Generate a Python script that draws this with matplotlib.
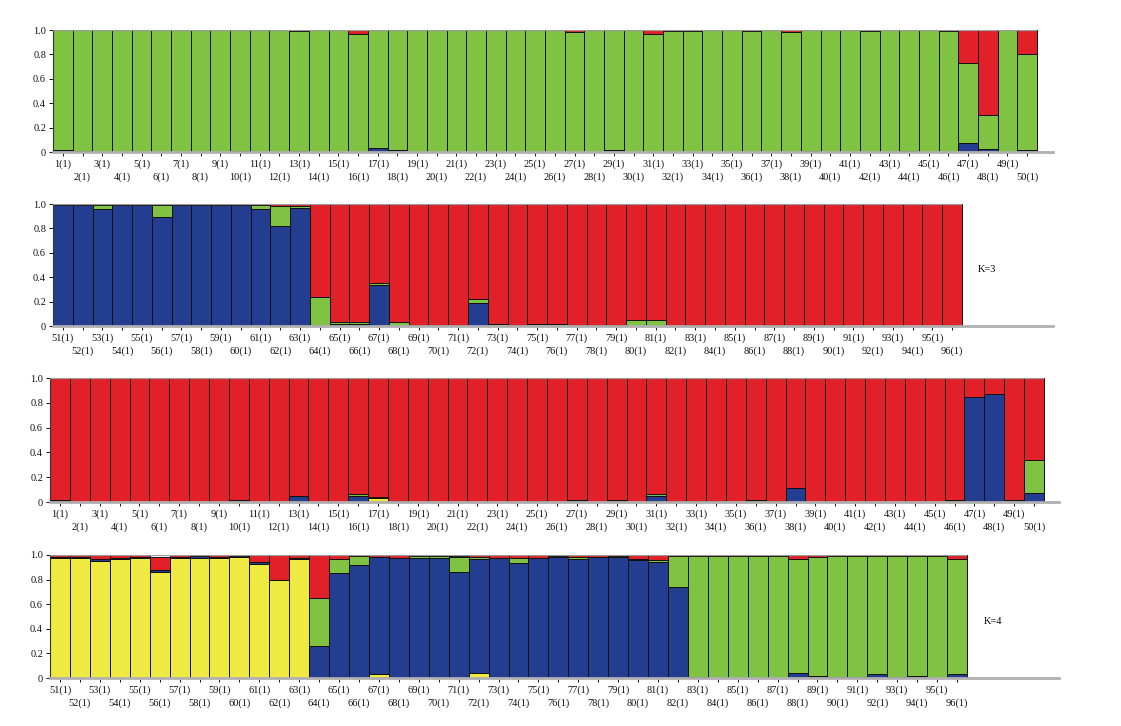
import matplotlib.pyplot as plt
import numpy as np

plt.rcParams['font.family'] = ['Liberation Serif', 'DejaVu Serif']

# colours of the clusters
GREEN = '#80C342'
RED = '#E12028'
BLUE = '#233E90'
YELLOW = '#EEEA42'

# ---- panel 1 : samples 1-50 (blue, green, red from bottom) ----
ids1 = list(range(1, 51))
blue1 = [0.015, 0.005, 0, 0, 0, 0, 0, 0, 0, 0.005,
         0, 0, 0.005, 0, 0, 0, 0.03, 0.015, 0, 0,
         0, 0, 0, 0, 0, 0, 0, 0, 0.02, 0,
         0, 0, 0, 0, 0, 0, 0, 0, 0.005, 0,
         0, 0, 0, 0.005, 0, 0, 0.075, 0.025, 0, 0.015]
green1 = [0.985, 0.995, 1, 1, 1, 1, 1, 1, 1, 0.995,
          1, 1, 0.985, 1, 1, 0.965, 0.97, 0.985, 1, 1,
          1, 1, 1, 1, 1, 1, 0.98, 1, 0.98, 1,
          0.97, 0.99, 0.99, 1, 1, 0.99, 1, 0.98, 0.995, 1,
          1, 0.99, 1, 0.995, 1, 0.99, 0.655, 0.275, 1, 0.785]
red1 = [0, 0, 0, 0, 0, 0, 0, 0, 0, 0,
        0, 0, 0.01, 0, 0, 0.035, 0, 0, 0, 0,
        0, 0, 0, 0, 0, 0, 0.02, 0, 0, 0,
        0.03, 0.01, 0.01, 0, 0, 0.01, 0, 0.02, 0, 0,
        0, 0.01, 0, 0, 0, 0.01, 0.27, 0.70, 0, 0.20]

# ---- panel 2 : samples 51-96, K=3 ----
ids2 = list(range(51, 97))
blue2 = [0.99, 0.99, 0.96, 0.99, 0.99, 0.89, 0.99, 0.99, 0.99, 0.99,
         0.955, 0.82, 0.97, 0, 0.02, 0.02, 0.34, 0, 0.005, 0,
         0, 0.19, 0, 0, 0, 0, 0, 0, 0, 0,
         0, 0, 0.005, 0, 0, 0, 0.005, 0, 0.005, 0.005,
         0, 0, 0, 0, 0, 0.005]
green2 = [0, 0, 0.03, 0, 0, 0.10, 0, 0, 0, 0,
          0.035, 0.165, 0.01, 0.24, 0.01, 0.01, 0.01, 0.03, 0.005, 0.01,
          0.01, 0.03, 0.02, 0.005, 0.02, 0.02, 0.01, 0.01, 0.01, 0.05,
          0.05, 0, 0, 0, 0, 0, 0, 0.01, 0, 0,
          0, 0, 0, 0, 0, 0]
red2 = [0.01, 0.01, 0.01, 0.01, 0.01, 0.01, 0.01, 0.01, 0.01, 0.01,
        0.01, 0.015, 0.02, 0.76, 0.97, 0.97, 0.65, 0.97, 0.99, 0.99,
        0.99, 0.78, 0.98, 0.995, 0.98, 0.98, 0.99, 0.99, 0.99, 0.95,
        0.95, 1, 0.995, 1, 1, 1, 0.995, 0.99, 0.995, 0.995,
        1, 1, 1, 1, 1, 0.995]

# ---- panel 3 : samples 1-50, K=4 (yellow, blue, green, red from bottom) ----
ids3 = list(range(1, 51))
yellow3 = [0.01, 0, 0, 0, 0, 0, 0, 0, 0, 0,
           0, 0, 0, 0, 0, 0, 0.03, 0, 0, 0,
           0, 0, 0, 0, 0, 0, 0, 0, 0, 0,
           0, 0, 0, 0, 0, 0, 0, 0, 0, 0,
           0, 0, 0, 0, 0, 0.005, 0.01, 0.01, 0, 0]
blue3 = [0.01, 0, 0, 0, 0, 0, 0, 0, 0, 0.02,
         0, 0, 0.05, 0, 0, 0.045, 0.01, 0.005, 0, 0,
         0, 0, 0, 0, 0.005, 0, 0.02, 0, 0.01, 0,
         0.05, 0, 0, 0.005, 0, 0.01, 0.01, 0.11, 0, 0,
         0, 0, 0, 0, 0, 0, 0.84, 0.86, 0.02, 0.075]
green3 = [0, 0, 0, 0, 0, 0, 0, 0, 0, 0,
          0, 0, 0, 0, 0, 0.02, 0, 0, 0, 0,
          0, 0, 0, 0, 0, 0, 0, 0, 0.01, 0,
          0.015, 0.01, 0.01, 0, 0, 0.01, 0, 0, 0, 0,
          0, 0, 0, 0, 0, 0.015, 0, 0, 0, 0.265]
red3 = [0.98, 1, 1, 1, 1, 1, 1, 1, 1, 0.98,
        1, 1, 0.95, 1, 1, 0.935, 0.96, 0.995, 1, 1,
        1, 1, 1, 1, 0.995, 1, 0.98, 1, 0.98, 1,
        0.935, 0.99, 0.99, 0.995, 1, 0.98, 0.99, 0.89, 1, 1,
        1, 1, 1, 1, 1, 0.98, 0.15, 0.13, 0.98, 0.66]

# ---- panel 4 : samples 51-96, K=4 ----
ids4 = list(range(51, 97))
yellow4 = [0.975, 0.975, 0.955, 0.97, 0.975, 0.86, 0.975, 0.975, 0.975, 0.985,
           0.93, 0.80, 0.965, 0, 0.01, 0, 0.03, 0, 0, 0,
           0, 0.04, 0, 0, 0, 0, 0, 0, 0, 0,
           0, 0, 0, 0, 0, 0, 0, 0, 0, 0,
           0, 0, 0, 0, 0, 0]
blue4 = [0.01, 0.005, 0.01, 0.005, 0.005, 0.015, 0.005, 0.02, 0.005, 0,
         0.01, 0, 0.01, 0.26, 0.84, 0.92, 0.95, 0.975, 0.975, 0.975,
         0.86, 0.93, 0.975, 0.935, 0.975, 0.98, 0.97, 0.98, 0.98, 0.96,
         0.94, 0.74, 0.01, 0, 0, 0, 0, 0.04, 0.02, 0.01,
         0.01, 0.03, 0.01, 0.02, 0, 0.03]
green4 = [0, 0, 0, 0, 0, 0, 0, 0, 0, 0.005,
          0, 0, 0, 0.39, 0.12, 0.07, 0.005, 0, 0.02, 0.02,
          0.12, 0.01, 0, 0.04, 0, 0.01, 0.015, 0, 0.01, 0.01,
          0.02, 0.25, 0.98, 0.99, 0.99, 0.99, 0.99, 0.93, 0.96, 0.98,
          0.98, 0.96, 0.98, 0.97, 0.99, 0.94]
red4 = [0.015, 0.02, 0.035, 0.025, 0.02, 0.11, 0.02, 0.005, 0.02, 0.01,
        0.06, 0.20, 0.025, 0.35, 0.03, 0.01, 0.015, 0.025, 0.005, 0.005,
        0.01, 0.02, 0.025, 0.025, 0.025, 0.01, 0.015, 0.02, 0.01, 0.03,
        0.04, 0.01, 0.01, 0.01, 0.01, 0.01, 0.01, 0.03, 0.02, 0.01,
        0.01, 0.01, 0.01, 0.01, 0.01, 0.03]

W, H = 1121, 726
fig = plt.figure(figsize=(W / 100, H / 100), dpi=100)


def panel(px_left, px_top, px_bottom, px_right, px_bars_end, ids, layers, label=None, label_xy=None):
	n = len(ids)
	ax = fig.add_axes([px_left / W, 1 - px_bottom / H,
					   (px_right - px_left) / W, (px_bottom - px_top) / H])
	x = np.arange(n) + 0.5
	bottom = np.zeros(n)
	for vals, col in layers:
		vals = np.array(vals, dtype=float)
		ax.bar(x, vals, width=1.0, bottom=bottom, color=col,
			   edgecolor='#111111', linewidth=0.7)
		bottom = bottom + vals
	xmax = n * (px_right - px_left) / (px_bars_end - px_left)
	ax.set_xlim(0, xmax)
	ax.set_ylim(0, 1.0)
	ax.hlines(1.0, 0, n, color='#9a9a9a', lw=1.6, zorder=5)
	for s in ['top', 'right']:
		ax.spines[s].set_visible(False)
	ax.spines['bottom'].set_color('#b0b0b0')
	ax.spines['bottom'].set_linewidth(2)
	ax.spines['left'].set_color('#333333')
	ax.spines['left'].set_linewidth(0.8)
	ax.set_yticks([0, 0.2, 0.4, 0.6, 0.8, 1.0])
	ax.set_yticklabels(['0', '0.2', '0.4', '0.6', '0.8', '1.0'], fontsize=7.5)
	# odd samples on the upper row, even samples on the lower row
	odd = [k for k, i in enumerate(ids) if i % 2 == 1]
	even = [k for k, i in enumerate(ids) if i % 2 == 0]
	ax.set_xticks(x[odd])
	ax.set_xticklabels([f'{ids[k]}(1)' for k in odd], fontsize=7.5)
	ax.set_xticks(x[even], minor=True)
	ax.set_xticklabels([f'{ids[k]}(1)' for k in even], fontsize=7.5, minor=True)
	ax.tick_params(axis='x', which='major', length=3, width=0.7, pad=2, colors='#111111')
	ax.tick_params(axis='x', which='minor', length=3, width=0.7, pad=12, colors='#111111')
	ax.tick_params(axis='y', length=3, width=0.7, pad=2, colors='#111111')
	if label:
		fig.text(label_xy[0] / W, 1 - label_xy[1] / H, label, fontsize=7.5,
				 ha='center', va='center')
	return ax


panel(53, 30, 152, 1053, 1037, ids1, [(blue1, BLUE), (green1, GREEN), (red1, RED)])
panel(53, 204, 326, 1053, 962, ids2, [(blue2, BLUE), (green2, GREEN), (red2, RED)],
	  'K=3', (987, 269))
panel(50, 378, 502, 1059, 1044, ids3,
	  [(yellow3, YELLOW), (blue3, BLUE), (green3, GREEN), (red3, RED)])
panel(50, 555, 678, 1059, 967, ids4,
	  [(yellow4, YELLOW), (blue4, BLUE), (green4, GREEN), (red4, RED)],
	  'K=4', (993, 621))

fig.savefig('out.png', dpi=100)
